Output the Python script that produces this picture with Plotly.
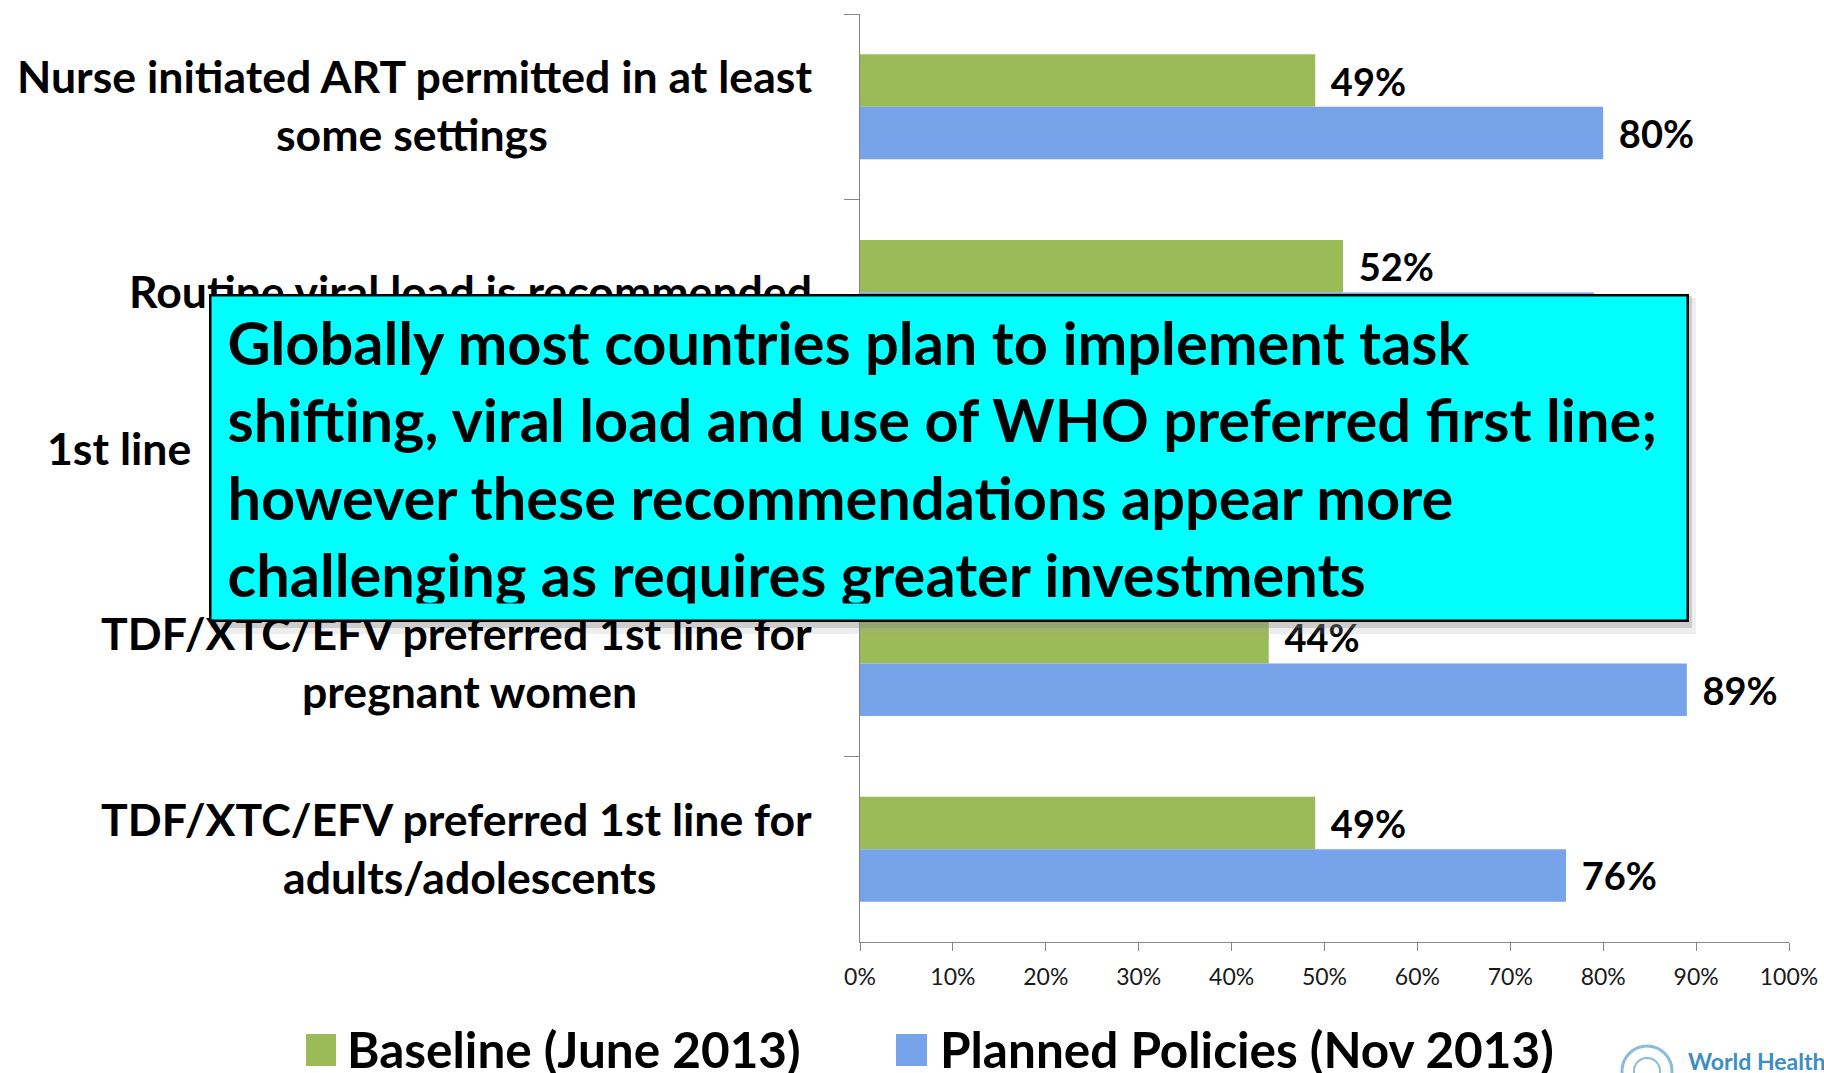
import plotly.graph_objects as go

# ---------------- data ----------------
categories = [
    "Nurse initiated ART permitted in at least<br>some settings",
    "Routine viral load is recommended",
    "1st line\u00a0\u00a0TDF/XTC/EFV once daily FDC<br>recommended",
    "TDF/XTC/EFV preferred 1st line for<br>pregnant women",
    "TDF/XTC/EFV preferred 1st line for<br>adults/adolescents",
]
baseline = [49, 52, 38, 44, 49]
planned = [80, 79, 72, 89, 76]
series_names = ["Baseline (June 2013)", "Planned Policies (Nov 2013)"]
x_ticks = [0, 10, 20, 30, 40, 50, 60, 70, 80, 90, 100]
x_tick_labels = [f"{v}%" for v in x_ticks]
message = ("Globally most countries plan to implement task<br>"
           "shifting, viral load and use of WHO preferred first line;<br>"
           "however these recommendations appear more<br>"
           "challenging as requires greater investments")

# ---------------- styling / geometry ----------------
W, H = 1824, 1073
L, R, T, B = 860, 1789, 14, 942
GREEN = "#9BBB59"
BLUE = "#76A3E9"
AXIS = "#868686"
FONT = "Lato"


def xp(px):
    return (px - L) / (R - L)


def yp(py):
    return (B - py) / (B - T)


label_font = dict(family=FONT, size=38, color="black", weight="bold")

fig = go.Figure()
for name, vals, col in [(series_names[0], baseline, GREEN), (series_names[1], planned, BLUE)]:
    fig.add_trace(go.Bar(
        y=categories, x=vals, orientation="h", name=name,
        marker=dict(color=col, line=dict(width=0)),
        text=[f"{v}%" for v in vals],
        texttemplate="\u2004%{text}", textposition="outside",
        textfont=label_font, cliponaxis=False, constraintext="none",
        showlegend=False,
    ))

annotations = []
# category labels (centered multi-line, right aligned block)
line_centers = [412, None, 439, 469, 469]
for i, cat in enumerate(categories):
    lines = cat.split("<br>")
    n = len(lines)
    for j, ln in enumerate(lines):
        shift = (j - (n - 1) / 2) * 58 - 2
        if j == 0:
            xa, xpos = "right", xp(814)
        else:
            xa, xpos = "center", xp(line_centers[i])
        annotations.append(dict(
            text=ln, xref="paper", x=xpos, xanchor=xa,
            yref="y", y=cat, yanchor="middle", yshift=-shift,
            showarrow=False, font=dict(family=FONT, size=44.6, color="black", weight="bold"),
        ))

# message box
bw, bp = 2.5, 16
annotations.append(dict(
    text=message, xref="paper", yref="paper",
    x=xp(209), y=yp(294), xanchor="left", yanchor="top",
    width=1480 - 2 * (bw + bp), height=328 - 2 * (bw + bp),
    align="left", valign="middle", showarrow=False,
    bgcolor="#00FFFF", bordercolor="black", borderwidth=bw, borderpad=bp,
    font=dict(family=FONT, size=59.5, color="black", weight="bold"),
))

# legend texts
annotations.append(dict(text=series_names[0], xref="paper", yref="paper",
                        x=xp(345), y=yp(1049), xanchor="left", yanchor="middle",
                        showarrow=False, font=dict(family=FONT, size=49.5, color="black", weight="bold")))
annotations.append(dict(text=series_names[1], xref="paper", yref="paper",
                        x=xp(938), y=yp(1049), xanchor="left", yanchor="middle",
                        showarrow=False, font=dict(family=FONT, size=49.5, color="black", weight="bold")))
# logo text
annotations.append(dict(text="World Health", xref="paper", yref="paper",
                        x=xp(1686), y=yp(1061), xanchor="left", yanchor="middle",
                        showarrow=False, font=dict(family=FONT, size=23, color="#3D8EC2", weight="bold")))

shapes = [
    # box shadows
    dict(type="rect", xref="paper", yref="paper", layer="above",
         x0=xp(211), x1=xp(1696), y0=yp(298), y1=yp(634),
         fillcolor="#A0A0A0", opacity=0.18, line=dict(width=0)),
    dict(type="rect", xref="paper", yref="paper", layer="above",
         x0=xp(210), x1=xp(1692), y0=yp(296), y1=yp(628),
         fillcolor="#808080", opacity=0.3, line=dict(width=0)),
    # legend swatches
    dict(type="rect", xref="paper", yref="paper",
         x0=xp(306), x1=xp(336), y0=yp(1034), y1=yp(1066),
         fillcolor=GREEN, line=dict(width=0)),
    dict(type="rect", xref="paper", yref="paper",
         x0=xp(896), x1=xp(927), y0=yp(1034), y1=yp(1066),
         fillcolor=BLUE, line=dict(width=0)),
    # logo emblem
    dict(type="circle", xref="paper", yref="paper",
         x0=xp(1622), x1=xp(1672), y0=yp(1046), y1=yp(1096),
         line=dict(color="#8CBCDA", width=3)),
    dict(type="circle", xref="paper", yref="paper",
         x0=xp(1634), x1=xp(1660), y0=yp(1058), y1=yp(1084),
         line=dict(color="#8CBCDA", width=2)),
]

fig.update_layout(
    width=W, height=H,
    margin=dict(l=L, r=W - R, t=T, b=H - B, pad=0, autoexpand=False),
    paper_bgcolor="white", plot_bgcolor="white",
    barmode="group", bargap=0.434, bargroupgap=0,
    showlegend=False,
    annotations=annotations, shapes=shapes,
    xaxis=dict(range=[0, 100], tickmode="array", tickvals=x_ticks, ticktext=x_tick_labels,
               showline=True, linecolor=AXIS, linewidth=1.3, automargin=False,
               ticks="outside", ticklen=8, tickcolor=AXIS, tickwidth=1.3,
               showgrid=False, zeroline=False, ticklabelstandoff=6,
               tickfont=dict(family=FONT, size=23, color="#1a1a1a")),
    yaxis=dict(type="category", autorange="reversed", automargin=False,
               showline=True, linecolor=AXIS, linewidth=1.3,
               ticks="outside", tickson="boundaries", ticklen=15,
               tickcolor=AXIS, tickwidth=1.3,
               showticklabels=False, showgrid=False, zeroline=False),
)

fig.write_html("out.html")
